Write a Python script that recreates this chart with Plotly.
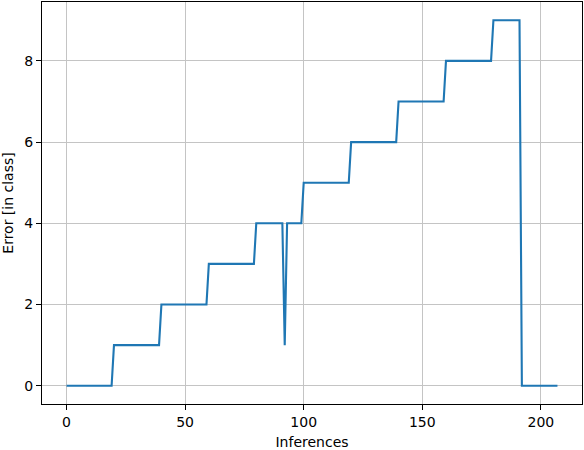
import plotly.graph_objects as go

# Vertices of the error trace (inference index, error in classes)
inferences = [0, 19, 20, 39, 40, 59, 60, 79, 80, 91, 92, 93, 99, 100, 119, 120,
              139, 140, 159, 160, 179, 180, 191, 192, 207]
errors = [0, 0, 1, 1, 2, 2, 3, 3, 4, 4, 1, 4, 4, 5, 5, 6,
          6, 7, 7, 8, 8, 9, 9, 0, 0]

x_ticks = [0, 50, 100, 150, 200]
y_ticks = [0, 2, 4, 6, 8]

FONT = "DejaVu Sans"

fig = go.Figure()
fig.add_trace(go.Scatter(
    x=inferences, y=errors, mode="lines",
    line=dict(color="#1f77b4", width=2.1),
    showlegend=False,
))

axis_common = dict(
    showgrid=True, gridcolor="#c4c4c4", gridwidth=1.1,
    showline=True, linecolor="black", linewidth=1.1, mirror=True,
    ticks="outside", ticklen=5, tickwidth=1.1, tickcolor="black",
    zeroline=False, automargin=False,
    tickfont=dict(family=FONT, size=14, color="black"),
)

fig.update_xaxes(
    range=[-10.35, 217.35], tickmode="array", tickvals=x_ticks,
    title=dict(text="Inferences", font=dict(family=FONT, size=14, color="black")),
    **axis_common,
)
fig.update_yaxes(
    range=[-0.45, 9.45], tickmode="array", tickvals=y_ticks,
    title=dict(text="Error [in class]", font=dict(family=FONT, size=14, color="black")),
    **axis_common,
)

fig.update_layout(
    width=584, height=450,
    margin=dict(l=42, r=2, t=2, b=46),
    paper_bgcolor="white", plot_bgcolor="white",
    font=dict(family=FONT, size=14, color="black"),
)

fig.write_html(
    "out.html",
    config={"displayModeBar": False},
    post_script="document.body.style.margin='0';document.body.style.overflow='hidden';",
)
